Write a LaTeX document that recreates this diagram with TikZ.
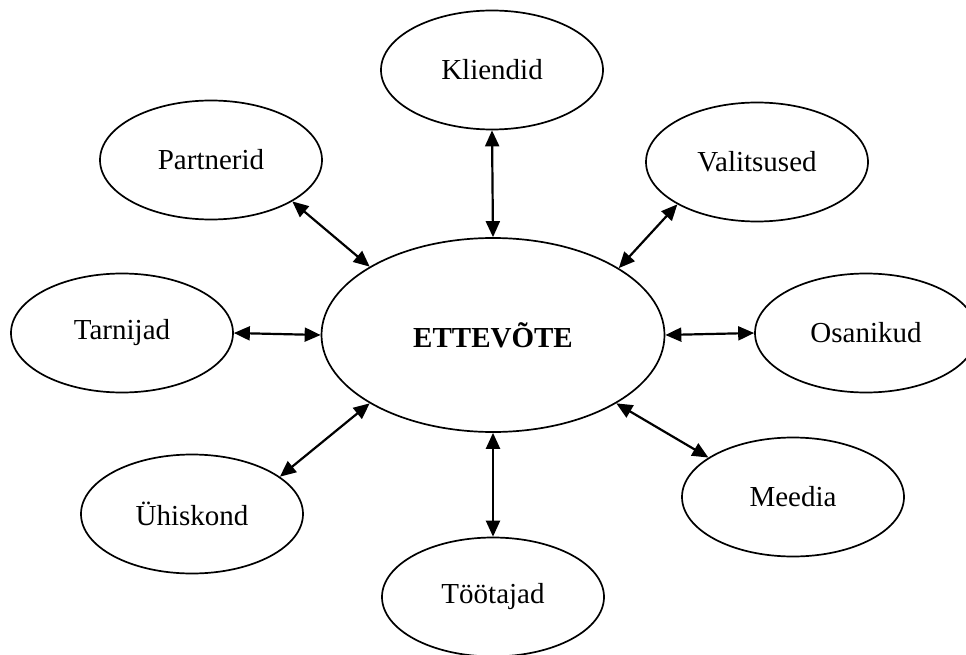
\documentclass[tikz,border=0pt]{standalone}
\usepackage{fontspec}
\setmainfont{Liberation Serif}
\usetikzlibrary{shapes.geometric,arrows.meta}
\begin{document}
\begin{tikzpicture}[x=1pt,y=-1pt,
  stake/.style={ellipse,draw,line width=1.7pt,minimum width=222pt,minimum height=119pt,inner sep=0pt,
    font=\fontsize{29}{34}\selectfont},
  core/.style={ellipse,draw,line width=1.7pt,minimum width=343pt,minimum height=194pt,inner sep=0pt,
    font=\fontsize{29}{34}\selectfont\bfseries},
  link/.style={line width=2.2pt,{Triangle[length=16pt,width=14pt]}-{Triangle[length=16pt,width=14pt]}}]
\useasboundingbox (0,0) rectangle (966,655);
\node[core] (C) at (493,335) {ETTEVÕTE};
\node[stake] (K) at (492,70) {Kliendid};
\node[stake] (P) at (211,160) {Partnerid};
\node[stake] (V) at (757,162) {Valitsused};
\node[stake] (T) at (122,333) {Tarnijad};
\node[stake] (O) at (866,333) {Osanikud};
\node[stake] (U) at (192,514) {Ühiskond};
\node[stake] (M) at (793,497) {Meedia};
\node[stake] (W) at (493,597) {Töötajad};
\draw[link] (K.270) -- (C.90);
\draw[link] (P.-27.7) -- (C.151.4);
\draw[link] (V.-152.3) -- (C.28.6);
\draw[link] (T.0) -- (C.180.3);
\draw[link] (C.0.3) -- (O.180);
\draw[link] (U.23.3) -- (C.209.3);
\draw[link] (C.-29.1) -- (M.155.2);
\draw[link] (C.270) -- (W.90);
\end{tikzpicture}
\end{document}
